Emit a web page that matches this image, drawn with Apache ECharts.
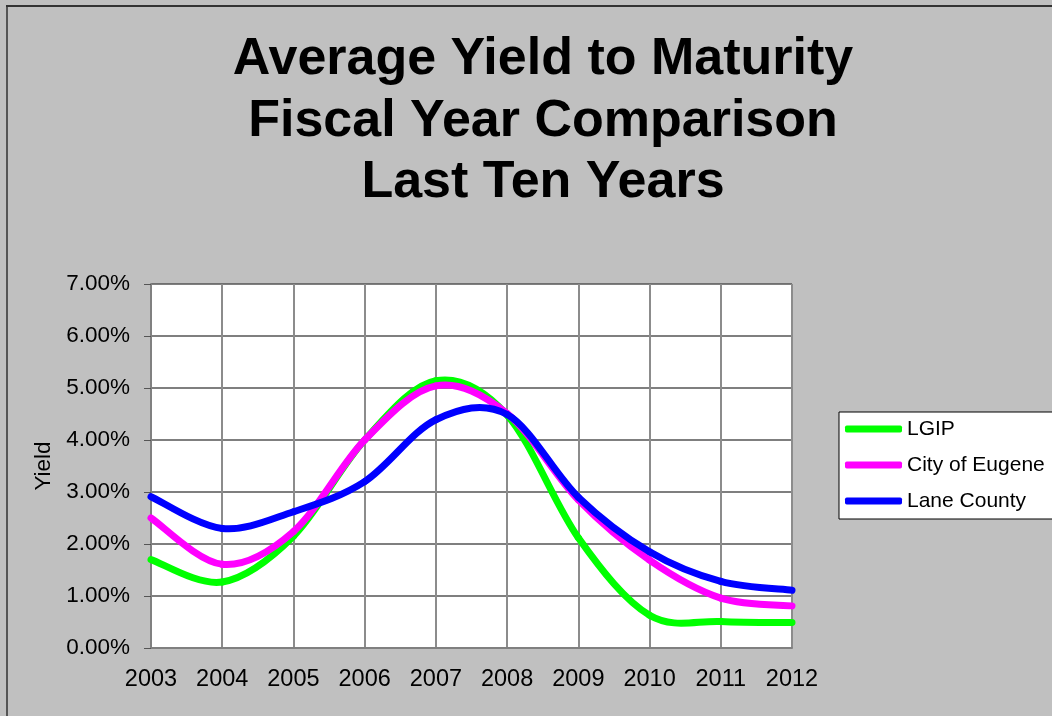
<!DOCTYPE html>
<html>
<head>
<meta charset="utf-8">
<script src="https://cdn.jsdelivr.net/npm/echarts@6/dist/echarts.min.js"></script>
<style>
  html, body { margin: 0; padding: 0; background: #c0c0c0; }
  #chart { width: 1052px; height: 716px; }
</style>
</head>
<body>
<div id="chart"></div>
<script>
// Fiscal years on the category axis
const years = ['2003', '2004', '2005', '2006', '2007', '2008', '2009', '2010', '2011', '2012'];

// Average yield to maturity, in percent
const lgip = [1.70, 1.27, 2.15, 4.00, 5.14, 4.48, 2.12, 0.63, 0.51, 0.49];
const cityOfEugene = [2.50, 1.61, 2.24, 4.00, 5.04, 4.51, 2.85, 1.69, 0.96, 0.81];
const laneCounty = [2.91, 2.30, 2.62, 3.20, 4.39, 4.49, 2.90, 1.85, 1.28, 1.11];

const FONT = '"Liberation Sans", Arial, sans-serif';

const chart = echarts.init(document.getElementById('chart'), null, { renderer: 'canvas' });

// Smoothed line drawn as Catmull-Rom Bezier segments between consecutive
// points; every point is placed through the chart's own axes (api.coord).
function yieldSeries(name, values, color) {
  const n = values.length;
  return {
    name: name,
    type: 'custom',
    data: values.map(function (v, i) { return [i, v]; }),
    encode: { x: 0, y: 1 },
    itemStyle: { color: color },
    renderItem: function (params, api) {
      const i = params.dataIndex;
      if (i >= n - 1) return null;
      const pt = function (k) {
        k = Math.max(0, Math.min(n - 1, k));
        return api.coord([k, values[k]]);
      };
      const p0 = pt(i - 1), p1 = pt(i), p2 = pt(i + 1), p3 = pt(i + 2);
      return {
        type: 'bezierCurve',
        shape: {
          x1: p1[0], y1: p1[1],
          cpx1: p1[0] + (p2[0] - p0[0]) / 6, cpy1: p1[1] + (p2[1] - p0[1]) / 6,
          cpx2: p2[0] - (p3[0] - p1[0]) / 6, cpy2: p2[1] - (p3[1] - p1[1]) / 6,
          x2: p2[0], y2: p2[1]
        },
        style: { stroke: color, lineWidth: 7, fill: null, lineCap: 'round' },
        silent: true
      };
    }
  };
}

chart.setOption({
  backgroundColor: '#c0c0c0',
  animation: false,
  title: {
    text: 'Average Yield to Maturity\nFiscal Year Comparison\nLast Ten Years',
    left: 543,
    textAlign: 'center',
    top: 29,
    padding: 0,
    textStyle: {
      fontFamily: FONT,
      fontWeight: 'bold',
      fontSize: 52,
      lineHeight: 61.5,
      color: '#000'
    }
  },
  legend: {
    orient: 'vertical',
    left: 839,
    top: 412,
    padding: [6, 12, 7, 6],
    itemGap: 14,
    icon: 'roundRect',
    itemWidth: 57,
    itemHeight: 7,
    backgroundColor: '#ffffff',
    borderColor: '#000000',
    borderWidth: 1,
    borderRadius: 0,
    selectedMode: false,
    textStyle: { fontFamily: FONT, fontSize: 21, color: '#000', lineHeight: 22 },
    data: ['LGIP', 'City of Eugene', 'Lane County']
  },
  grid: { left: 151, top: 284, right: 260, bottom: 68, backgroundColor: '#ffffff', show: true, borderWidth: 0 },
  xAxis: {
    type: 'category',
    data: years,
    boundaryGap: false,
    axisLine: { show: true, lineStyle: { color: '#808080', width: 2 } },
    axisTick: { show: false },
    axisLabel: { fontFamily: FONT, fontSize: 23.5, color: '#000', margin: 20, interval: 0 },
    splitLine: { show: true, interval: 0, lineStyle: { color: '#8c8c8c', width: 2 } }
  },
  yAxis: {
    type: 'value',
    min: 0,
    max: 7,
    interval: 1,
    name: 'Yield',
    nameLocation: 'middle',
    nameGap: 94,
    nameTextStyle: { fontFamily: FONT, fontSize: 22.5, color: '#000' },
    axisLine: { show: true, lineStyle: { color: '#808080', width: 2 } },
    axisTick: { show: true, inside: false, length: 7, lineStyle: { color: '#555', width: 1 } },
    axisLabel: {
      fontFamily: FONT, fontSize: 22.5, color: '#000', margin: 21,
      formatter: function (v) { return v.toFixed(2) + '%'; }
    },
    splitLine: { show: true, lineStyle: { color: '#555555', width: 1.5 } }
  },
  graphic: [
    { type: 'line', shape: { x1: 7, y1: 6, x2: 7, y2: 716 }, style: { stroke: '#555', lineWidth: 2 }, silent: true },
    { type: 'line', shape: { x1: 6, y1: 6, x2: 1052, y2: 6 }, style: { stroke: '#333', lineWidth: 2 }, silent: true }
  ],
  series: [
    yieldSeries('LGIP', lgip, '#00ff00'),
    yieldSeries('City of Eugene', cityOfEugene, '#ff00ff'),
    yieldSeries('Lane County', laneCounty, '#0000ff')
  ]
});
</script>
</body>
</html>
